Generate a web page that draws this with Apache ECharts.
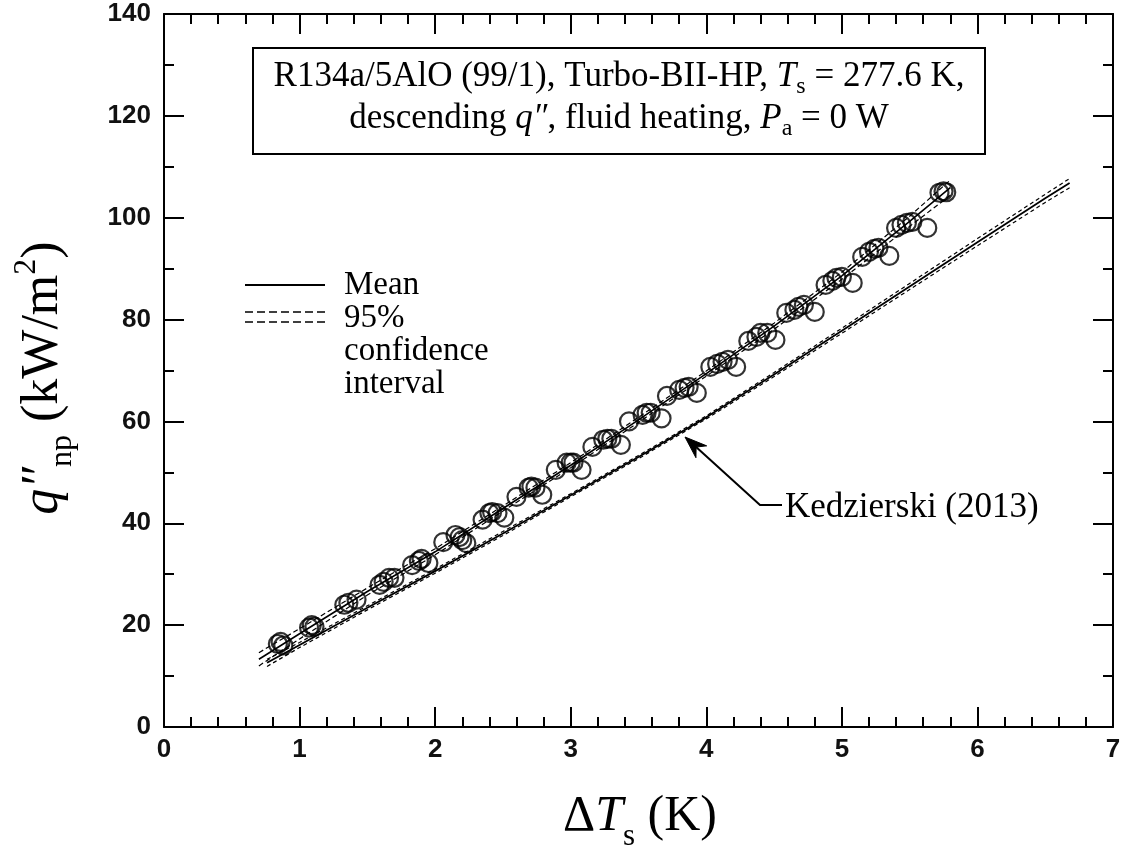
<!DOCTYPE html>
<html><head><meta charset="utf-8">
<script src="https://cdn.jsdelivr.net/npm/echarts@6/dist/echarts.min.js"></script>
<style>html,body{margin:0;padding:0;background:#fff}#c{width:1124px;height:855px}</style>
</head><body><div id="c"></div>
<script>
// ---- data ----
const xTickLabels = ['0','1','2','3','4','5','6','7'];
const yTickLabels = ['0','20','40','60','80','100','120','140'];

// measured points (ΔTs in K, q'' in kW/m2)
const measDT = [0.84,0.86,0.88, 1.07,1.09,1.11, 1.33,1.36,1.42, 1.59,1.62,1.66,1.70,
  1.83,1.88,1.90,1.95, 2.06,2.15,2.18,2.20,2.23, 2.35,2.40,2.42,2.46,2.51,
  2.60,2.69,2.71,2.74,2.79, 2.89,2.97,3.00,3.02,3.08, 3.16,3.24,3.27,3.30,3.37,
  3.43,3.53,3.56,3.59,3.67, 3.71,3.80,3.84,3.87,3.93, 4.03,4.08,4.12,4.16,4.22,
  4.31,4.37,4.40,4.45,4.51, 4.59,4.65,4.68,4.72,4.80, 4.88,4.93,4.96,5.00,5.08,
  5.15,5.20,5.24,5.27,5.35, 5.40,5.44,5.48,5.52,5.63, 5.72,5.75,5.77];
const measQ = [16.3,16.7,16.0, 19.5,20.0,19.7, 24.0,24.4,25.0, 27.9,28.5,29.3,29.3,
  31.8,32.6,33.0,32.2, 36.3,37.7,37.3,36.7,36.1, 40.7,42.0,42.2,42.0,41.1,
  45.2,47.0,47.2,47.0,45.6, 50.5,51.9,51.9,51.9,50.5, 55.0,56.4,56.6,56.6,55.4,
  60.0,61.3,61.7,61.7,60.6, 65.0,66.2,66.6,66.8,65.6, 70.7,71.3,71.7,72.1,70.7,
  75.8,76.6,77.4,77.4,76.0, 81.3,81.9,82.5,82.9,81.5, 86.8,87.6,88.2,88.4,87.2,
  92.3,93.3,93.9,94.1,92.5, 98.0,98.6,99.0,99.2,98.0, 104.9,105.2,105.0];

// fit of present data: mean and 95% confidence interval
const fitDT    = [0.70,1.0,1.5,2.0,2.5,3.0,3.5,4.0,4.5,5.0,5.5,5.8];
const fitMean  = [13.3,18.3,26.6,34.4,42.9,51.4,60.3,69.4,78.7,88.6,99.3,105.9];
const fitUpper = [14.6,19.3,27.3,35.0,43.4,51.9,60.8,69.9,79.3,89.3,100.3,107.4];
const fitLower = [12.0,17.3,25.9,33.8,42.4,50.9,59.8,68.9,78.1,87.9,98.3,104.4];

// Kedzierski (2013) correlation: mean and 95% confidence interval
const kedDT    = [0.76,1.0,1.5,2.0,2.5,3.0,3.5,4.0,4.5,5.0,5.5,6.0,6.5,6.68];
const kedMean  = [12.6,16.1,23.4,30.6,38.0,45.5,53.0,60.8,69.2,77.8,86.5,95.2,103.8,106.8];
const kedUpper = [13.3,16.6,23.8,31.0,38.4,45.8,53.3,61.1,69.6,78.3,87.1,95.9,104.6,107.7];
const kedLower = [11.9,15.6,23.0,30.2,37.6,45.2,52.7,60.5,68.8,77.3,85.9,94.5,103.0,105.9];

const zip = (a, b) => a.map((v, i) => [v, b[i]]);

const chart = echarts.init(document.getElementById('c'), null, {renderer: 'canvas'});

const AX = '#000';
const serif = '"Liberation Serif","Times New Roman",serif';
const sans = '"Liberation Sans",Arial,sans-serif';

function mkX(pos, showLabel) {
  return {
    type: 'value', position: pos, min: 0, max: 7, interval: 1,
    axisLine: {show: true, onZero: false, lineStyle: {color: AX, width: 2}},
    axisTick: {show: true, inside: true, length: 20, lineStyle: {color: AX, width: 2}},
    minorTick: {show: true, splitNumber: 5, length: 10, lineStyle: {color: AX, width: 2}},
    splitLine: {show: false}, minorSplitLine: {show: false},
    axisLabel: {show: showLabel, fontSize: 26, fontWeight: 'bold', margin: 10, color: '#111', fontFamily: sans,
      formatter: v => xTickLabels[Math.round(v)]}
  };
}
function mkY(pos, showLabel) {
  return {
    type: 'value', position: pos, min: 0, max: 140, interval: 20,
    axisLine: {show: true, onZero: false, lineStyle: {color: AX, width: 2}},
    axisTick: {show: true, inside: true, length: 20, lineStyle: {color: AX, width: 2}},
    minorTick: {show: true, splitNumber: 2, length: 10, lineStyle: {color: AX, width: 2}},
    splitLine: {show: false}, minorSplitLine: {show: false},
    axisLabel: {show: showLabel, fontSize: 26, fontWeight: 'bold', margin: 13, color: '#111', fontFamily: sans,
      formatter: v => yTickLabels[Math.round(v / 20)]}
  };
}

const lineBase = {type: 'line', showSymbol: false, symbol: 'none', smooth: false,
  xAxisIndex: 0, yAxisIndex: 0, z: 3, silent: true};

// annotation arrow geometry (layout)
const tip = [685, 437], elbow = [760, 505], tailEnd = [782, 505];
const dx = tip[0] - elbow[0], dy = tip[1] - elbow[1], L = Math.hypot(dx, dy);
const ux = dx / L, uy = dy / L, nx = -uy, ny = ux;
const headLen = 22, headW = 8, notch = 15;
const bx = tip[0] - ux * headLen, by = tip[1] - uy * headLen;
const arrowHead = [tip, [bx + nx * headW, by + ny * headW],
  [tip[0] - ux * notch, tip[1] - uy * notch], [bx - nx * headW, by - ny * headW]];

const richBase = (fs, subFs, subPad, supPad, basePad) => ({
  n: {fontFamily: serif, fontSize: fs, color: '#000', verticalAlign: 'top', padding: [basePad, 0, 0, 0]},
  i: {fontFamily: serif, fontSize: fs, fontStyle: 'italic', color: '#000', verticalAlign: 'top', padding: [basePad, 0, 0, 0]},
  sub: {fontFamily: serif, fontSize: subFs, color: '#000', verticalAlign: 'top', padding: [subPad, 0, 0, 0]},
  sup: {fontFamily: serif, fontSize: subFs, color: '#000', verticalAlign: 'top', padding: [supPad, 0, 0, 0]}
});

const option = {
  animation: false,
  backgroundColor: '#fff',
  grid: {left: 164, right: 11, top: 14, bottom: 128, containLabel: false, outerBoundsMode: 'none'},
  xAxis: [mkX('bottom', true), mkX('top', false)],
  yAxis: [mkY('left', true), mkY('right', false)],
  series: [
    Object.assign({}, lineBase, {name: 'kedUpper', data: zip(kedDT, kedUpper),
      lineStyle: {color: '#000', width: 1.2, type: [4, 3]}}),
    Object.assign({}, lineBase, {name: 'kedLower', data: zip(kedDT, kedLower),
      lineStyle: {color: '#000', width: 1.2, type: [4, 3]}}),
    Object.assign({}, lineBase, {name: 'kedMean', data: zip(kedDT, kedMean),
      lineStyle: {color: '#000', width: 1.8}}),
    Object.assign({}, lineBase, {name: 'fitUpper', data: zip(fitDT, fitUpper),
      lineStyle: {color: '#000', width: 1.2, type: [5, 3]}}),
    Object.assign({}, lineBase, {name: 'fitLower', data: zip(fitDT, fitLower),
      lineStyle: {color: '#000', width: 1.2, type: [5, 3]}}),
    Object.assign({}, lineBase, {name: 'fitMean', data: zip(fitDT, fitMean),
      lineStyle: {color: '#000', width: 1.6}}),
    {type: 'scatter', name: 'measured', data: zip(measDT, measQ), symbol: 'circle',
      symbolSize: 18, z: 4, silent: true,
      itemStyle: {color: 'rgba(0,0,0,0)', borderColor: '#000', borderWidth: 2.2}}
  ],
  graphic: [
    // condition box
    {type: 'rect', shape: {x: 253, y: 48, width: 732, height: 106},
      style: {fill: '#fff', stroke: '#000', lineWidth: 2}, z: 10},
    {type: 'text', x: 619, y: 101, z: 11, style: {
      text: '{n|R134a/5AlO (99/1), Turbo-BII-HP, }{i|T}{sub|s}{n| = 277.6 K,}\n' +
            '{n|descending }{i|q″}{n|, fluid heating, }{i|P}{sub|a}{n| = 0 W}',
      align: 'center', verticalAlign: 'middle', lineHeight: 42,
      rich: richBase(35, 24, 16, 0, 0)}},
    // legend
    {type: 'line', shape: {x1: 245, y1: 285, x2: 325, y2: 285}, style: {stroke: '#000', lineWidth: 2}},
    {type: 'line', shape: {x1: 245, y1: 312, x2: 325, y2: 312}, style: {stroke: '#000', lineWidth: 1.5, lineDash: [8, 4]}},
    {type: 'line', shape: {x1: 245, y1: 322, x2: 325, y2: 322}, style: {stroke: '#000', lineWidth: 1.5, lineDash: [8, 4]}},
    {type: 'text', x: 344, y: 285, style: {text: 'Mean', font: '33px ' + serif, fill: '#000', verticalAlign: 'middle'}},
    {type: 'text', x: 344, y: 318, style: {text: '95%', font: '33px ' + serif, fill: '#000', verticalAlign: 'middle'}},
    {type: 'text', x: 344, y: 351, style: {text: 'confidence', font: '33px ' + serif, fill: '#000', verticalAlign: 'middle'}},
    {type: 'text', x: 344, y: 384, style: {text: 'interval', font: '33px ' + serif, fill: '#000', verticalAlign: 'middle'}},
    // Kedzierski annotation
    {type: 'polyline', shape: {points: [tailEnd, elbow, [tip[0] - ux * notch, tip[1] - uy * notch]]},
      style: {stroke: '#000', lineWidth: 2, fill: null}, z: 10},
    {type: 'polygon', shape: {points: arrowHead}, style: {fill: '#000', stroke: '#000', lineWidth: 1}, z: 10},
    {type: 'text', x: 785, y: 508, style: {text: 'Kedzierski (2013)', font: '35px ' + serif, fill: '#000', verticalAlign: 'middle'}},
    // axis titles
    {type: 'text', x: 640, y: 822, style: {
      text: '{n|Δ}{i|T}{sub|s}{n| (K)}', align: 'center', verticalAlign: 'middle',
      rich: richBase(50, 31, 29, 0, 0)}},
    {type: 'text', x: 44, y: 378, rotation: Math.PI / 2, style: {
      text: '{i|q″}{sub|np}{n| (kW/m}{sup|2}{n|)}', align: 'center', verticalAlign: 'middle',
      rich: richBase(52, 32, 38, 2, 8)}}
  ]
};
chart.setOption(option);
</script></body></html>
